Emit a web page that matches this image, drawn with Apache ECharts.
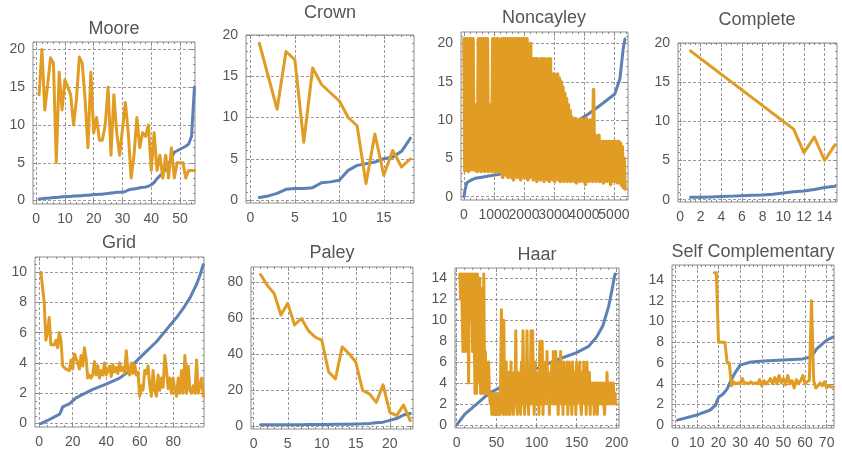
<!DOCTYPE html>
<html><head><meta charset="utf-8">
<script src="https://cdn.jsdelivr.net/npm/echarts@6/dist/echarts.min.js"></script>
<style>html,body{margin:0;padding:0;background:#fff}#c{width:842px;height:454px}</style>
</head><body><div id="c"></div>
<script>
// ---------------- DATA ----------------
const titles = ['Moore','Crown','Noncayley','Complete','Grid','Paley','Haar','Self Complementary'];

// Moore (x = 1..55)
const mooreBlue = [0.2,0.25,0.3,0.3,0.35,0.4,0.4,0.45,0.5,0.5,0.55,0.55,0.6,0.6,0.65,0.65,0.7,0.7,0.75,0.8,0.8,0.85,0.85,0.9,0.95,1.0,1.05,1.1,1.1,1.15,1.2,1.4,1.5,1.55,1.6,1.7,1.75,1.8,1.9,2.1,2.4,2.9,3.3,3.6,4.2,4.8,5.6,6.4,6.6,6.8,7.0,7.2,7.5,8.5,15];
const mooreOrange = [14,20,12,15.4,18.9,18.2,5,17,12,16,15,14,10,13.4,19,18.2,13.4,7,17,9,11,8,8,10,15,6,14,9,6,9.5,13,9,3,6,11,7,9,8.5,10,4,9,4,6,3,6,3,7,3,5,5,5,3,4,4,4];

// Crown (x = 1..18)
const crownBlue = [0.3,0.5,0.8,1.3,1.4,1.4,1.5,2.1,2.2,2.4,3.6,4.2,4.4,4.6,5.0,5.2,5.9,7.5];
const crownOrange = [19,15,11,18,17,7,16,14,13,12,10,9,2,8,3,6,4,5];

// Noncayley
const noncayleyBlueX = [0,30,90,200,370,600,810,1140,1500,2000,2500,3000,3400,3700,4150,4600,5030,5200,5310,5370];
const noncayleyBlueY = [0,0.8,1.8,2.1,2.4,2.55,2.7,2.9,3.3,4.0,5.0,6.5,8.3,9.7,10.8,12.1,13.4,15.4,19.3,20.6];
const noncayleyOrangeStep = 30;
const noncayleyOrange = [
 20.6,3.4,20.6,4,20.6,3.3,20.6,5,20.6,3.5,
 20.6,4,12,3.4,11.5,3.3,20.6,3.6,20.6,3.3,
 20.6,4,20.6,3.3,20.6,3.5,20.6,3.3,12,4,
 10,3.3,20.6,3.4,20.6,3.2,20.6,3.4,20.6,3.3,
 14,3.2,20.6,2.5,20.6,3,20.6,2.8,20.6,2.5,
 20.6,3,20.6,2.5,20.6,2.2,20.6,3,20.6,2.5,
 20.6,2.8,20.6,2.2,20.6,2.5,20.6,3,20.6,2.5,
 20.6,2.2,18,2.5,20,2.8,18,2.2,18,2.5,
 18,2,18,2.5,17,2.2,18,2.5,18,2,
 18,2.5,17.5,2.2,18,2,18,2.5,16,2.2,
 16,2,15.8,2.5,16,2.2,15.5,2,15,2.3,
 14.3,2,13.5,2.2,12.8,2,12,2.3,11.2,2,
 10.4,2.5,10,2,10.2,1.8,9.8,2.2,10,2,
 10.2,2.5,9.5,2,10,1.6,10.2,2.2,9.8,2,
 10,2.3,9,2,14,2.2,8,2,7.9,2.5,
 8,2,7.2,2.2,7.2,1.8,7.2,2.3,7.2,2,
 7.2,2.2,7.2,1.6,7.2,2,7.2,2.3,7.2,2,
 7.2,1.8,7.2,2.2,7,1.5,6.5,1.2,5,1];

// Complete (x = 1..15)
const completeBlue = [0.3,0.3,0.35,0.4,0.45,0.5,0.55,0.6,0.7,0.85,1.0,1.1,1.3,1.55,1.7];
const completeOrange = [19,18,17,16,15,14,13,12,11,10,9,6,8,5,7];

// Grid
const gridBlueX = [1,5,12,13,14,18,22,32,40,48,53,56,62,70,76,82,86,90,94,96,98];
const gridBlueY = [0,0.2,0.6,0.8,1.1,1.3,1.7,2.25,2.6,3.0,3.4,3.9,4.55,5.4,6.2,7.0,7.6,8.3,9.2,9.8,10.5];
const gridOrange = [10,9,8,5.5,6,7,5.2,5.3,5.2,5.5,5,6,5.5,3.8,3.8,3.6,3.5,3.5,4.2,3.6,
 4.6,4.5,4,3.6,4.5,3.8,5,4.3,3,3.2,3,3.2,4.1,3.2,3.8,3,3.5,3.2,4,3.2,
 3.5,3.8,3.1,3.9,3.4,3.7,3.3,4,3.5,3.7,3.3,4.8,3.5,3.2,4,3.3,3.9,3.2,3.4,1.8,
 2.5,2.2,3.5,3.3,3.8,2.5,1.8,3.5,2.2,1.8,3.2,2.2,3,2.4,4.5,3.5,2.3,3,2,3,
 2.2,1.8,3,2,3.5,2,4.5,2,3.8,2.2,2,2.5,2,4.2,2,2,3,1.8];

// Paley (x = 1..23)
const paleyBlue = [0.5,0.5,0.5,0.5,0.55,0.6,0.6,0.65,0.7,0.7,0.75,0.8,0.85,0.9,1.0,1.1,1.3,1.7,2.0,3.0,4.0,6.0,6.8];
const paleyOrange = [84,78,73.5,61.5,68,56,59.6,53,49.3,47.5,30,26,43.8,40,35.4,19.6,17.7,13,22.7,7.4,5.6,11.5,2.8];

// Haar
const haarBlueX = [1,10,25,40,50,75,100,125,150,165,175,183,190,194,198];
const haarBlueY = [0.1,1.0,2.0,3.0,3.4,4.5,5.4,6.2,6.9,7.5,8.4,9.5,11.3,12.8,14.4];
const haarOrangeStart = 4;
const haarOrange = [
 14.4,12,14.4,14.4,7,14.4,14.4,7,14.4,12,
 14.4,4,14.4,14.4,10,14.4,7,14.4,14.4,3,
 14.4,3,14.4,7,4,14,3,13,10,3,
 14.4,3,7,3,4,3,6,3,2,3,
 1,3,2,1,3,1,3,2,1,3,
 1,4,11,2,1,10,3,1,6,2,
 1,5,3,1,6,2,4,1,5,3,
 9,2,1,5,3,4,1,6,2,9,
 3,1,4,2,9,3,1,5,3,9,
 2,9,4,1,6,3,5,2,4,1,
 8,2,3,8,1,4,2,6,3,7,
 2,5,1,4,3,6,2,7,3,2,
 7,2,4,1,6,3,7,2,5,1,
 6,2,4,3,6,1,3,6,2,4,
 1,6,3,2,5,1,6,2,4,3,
 6,2,1,5,3,6,2,4,1,6,
 3,2,5,1,4,3,2,4,1,3,
 4,2,1,4,3,2,4,2,3,4,
 2,1,4,2,5,2,3,4,2,4,
 2,3,4,2,3,2,2];

// Self Complementary
const selfBlueX = [1,10,16,18.5,20,22,24,25.5,27.5,30,35,41,50,59,63,65.5,70,73];
const selfBlueY = [0.5,1.0,1.45,1.9,2.7,3.0,3.5,4.2,5.0,5.8,6.1,6.2,6.3,6.4,6.6,7.4,8.2,8.5];
const selfOrangeStart = 18;
const selfOrange = [14.7,14.7,8,8,8,8,6,6,3.8,4.2,4.0,4.1,4.0,4.5,4.0,4.1,4.0,4.2,4.0,4.1,
 4.0,4.4,3.8,4.3,4.0,4.2,4.5,4.0,4.6,4.0,4.8,4.1,4.5,3.9,4.8,4.0,4.3,3.6,4.4,4.0,
 4.3,4.8,4.0,4.2,4.3,12,4.3,3.6,3.8,4.1,3.8,4.2,3.6,3.8,3.7,3.7];

// Tick labels
const mooreXTicks = [0,10,20,30,40,50], mooreYTicks = [0,5,10,15,20];
const crownXTicks = [0,5,10,15], crownYTicks = [0,5,10,15,20];
const noncayleyXTicks = [0,1000,2000,3000,4000,5000], noncayleyYTicks = [0,5,10,15,20];
const completeXTicks = [0,2,4,6,8,10,12,14], completeYTicks = [0,5,10,15,20];
const gridXTicks = [0,20,40,60,80], gridYTicks = [0,2,4,6,8,10];
const paleyXTicks = [0,5,10,15,20], paleyYTicks = [0,20,40,60,80];
const haarXTicks = [0,50,100,150,200], haarYTicks = [0,2,4,6,8,10,12,14];
const selfXTicks = [0,10,20,30,40,50,60,70], selfYTicks = [0,2,4,6,8,10,12,14];

// ---------------- HELPERS ----------------
function pairs(vals, x0, dx) { return vals.map((v, i) => [x0 + i * dx, v]); }
function zip(xs, ys) { return xs.map((x, i) => [x, ys[i]]); }
function minorVals(min, max, step, majors) {
  const r = [];
  for (let k = Math.ceil(min / step); k <= Math.floor(max / step); k++) {
    const v = +(k * step).toFixed(6);
    if (!majors.some(m => Math.abs(m - v) < 1e-9)) r.push(v);
  }
  return r;
}

const FONT = '"Liberation Sans", Arial, Helvetica, sans-serif';
const BLUE = '#5E81B5', ORANGE = '#E19C24';
const FRAME = '#8c8c8c', GRIDC = '#9a9a9a', TXT = '#555';

const panels = [
  {t:0, cx:114, ty:20, box:[33,42,162,162], xr:[-1.1,55.2], yr:[-0.45,21], xt:mooreXTicks, yt:mooreYTicks, xm:2, ym:1,
   blue:pairs(mooreBlue,1,1), orange:pairs(mooreOrange,1,1)},
  {t:1, cx:330, ty:4, box:[246,35,168,168], xr:[-0.5,18.4], yr:[-0.36,20], xt:crownXTicks, yt:crownYTicks, xm:1, ym:1,
   blue:pairs(crownBlue,1,1), orange:pairs(crownOrange,1,1)},
  {t:2, cx:544, ty:9, box:[461,32,167,168], xr:[-100,5470], yr:[-0.43,21.5], xt:noncayleyXTicks, yt:noncayleyYTicks, xm:200, ym:1,
   blue:zip(noncayleyBlueX,noncayleyBlueY), orange:pairs(noncayleyOrange,0,noncayleyOrangeStep), w:3.6, splitLabels:true},
  {t:3, cx:757, ty:11, box:[678,43,159,159], xr:[-0.2,15.2], yr:[-0.3,20], xt:completeXTicks, yt:completeYTicks, xm:0.5, ym:1,
   blue:pairs(completeBlue,1,1), orange:pairs(completeOrange,1,1), splitLabels:true},
  {t:4, cx:119, ty:234, box:[35,257,169,170], xr:[-2.5,98.4], yr:[-0.23,11], xt:gridXTicks, yt:gridYTicks, xm:5, ym:0.5,
   blue:zip(gridBlueX,gridBlueY), orange:pairs(gridOrange,1,1)},
  {t:5, cx:332, ty:244, box:[251,267,162,162], xr:[-0.4,23.4], yr:[-1.8,88.2], xt:paleyXTicks, yt:paleyYTicks, xm:1, ym:5,
   blue:pairs(paleyBlue,1,1), orange:pairs(paleyOrange,1,1)},
  {t:6, cx:537, ty:246, box:[455,268,164,160], xr:[-2,203], yr:[-0.29,14.98], xt:haarXTicks, yt:haarYTicks, xm:10, ym:0.5,
   blue:zip(haarBlueX,haarBlueY), orange:pairs(haarOrange,haarOrangeStart,1), w:3},
  {t:7, cx:753, ty:243, box:[672,265,162,163], xr:[-1.5,73.4], yr:[-0.26,15.45], xt:selfXTicks, yt:selfYTicks, xm:2, ym:0.5,
   blue:zip(selfBlueX,selfBlueY), orange:pairs(selfOrange,selfOrangeStart,1)}
];

function axisDef(k, pos, r, tickVals, len, labelVals, split) {
  return {
    type:'value', gridIndex:k, position:pos, min:r[0], max:r[1],
    axisLine:{show:false, onZero:false},
    axisTick:{show:len > 0, inside:true, length:Math.max(len, 1), customValues:tickVals, lineStyle:{color:FRAME, width:1}},
    axisLabel:{show:!!labelVals, customValues:labelVals || tickVals, formatter:v => String(v), margin:8,
               hideOverlap:false, showMinLabel:true, showMaxLabel:true,
               fontSize:14, color:TXT, fontFamily:FONT},
    splitLine:{show:split, lineStyle:{color:GRIDC, width:1, type:[3,2]}},
    minorTick:{show:false}, minorSplitLine:{show:false}
  };
}

const grid = [], xAxis = [], yAxis = [], series = [], title = [], extraX = [];
panels.forEach((p, k) => {
  grid.push({left:p.box[0], top:p.box[1], width:p.box[2], height:p.box[3], show:true,
             borderColor:FRAME, borderWidth:1, backgroundColor:'transparent'});
  title.push({text:titles[p.t], left:p.cx, top:p.ty, textAlign:'center', padding:0,
              textStyle:{fontSize:18, fontWeight:'normal', color:TXT, fontFamily:FONT}});
  const xMinor = minorVals(p.xr[0], p.xr[1], p.xm, p.xt);
  const yMinor = minorVals(p.yr[0], p.yr[1], p.ym, p.yt);
  // split overlapping labels over two axes so none gets hidden
  const evenLbl = p.splitLabels ? p.xt.filter((v, i) => i % 2 === 0) : p.xt;
  const oddLbl = p.splitLabels ? p.xt.filter((v, i) => i % 2 === 1) : null;
  xAxis.push(axisDef(k,'bottom',p.xr,p.xt,4,evenLbl,true));
  xAxis.push(axisDef(k,'bottom',p.xr,xMinor,2,null,false));
  xAxis.push(axisDef(k,'top',p.xr,p.xt,4,null,false));
  xAxis.push(axisDef(k,'top',p.xr,xMinor,2,null,false));
  if (oddLbl) extraX.push(axisDef(k,'bottom',p.xr,oddLbl,0,oddLbl,false));
  yAxis.push(axisDef(k,'left',p.yr,p.yt,4,p.yt,true));
  yAxis.push(axisDef(k,'left',p.yr,yMinor,2,null,false));
  yAxis.push(axisDef(k,'right',p.yr,p.yt,4,null,false));
  yAxis.push(axisDef(k,'right',p.yr,yMinor,2,null,false));
  const w = p.w || 3;
  series.push({type:'line', xAxisIndex:k*4, yAxisIndex:k*4, data:p.blue, showSymbol:false, symbol:'none',
               lineStyle:{color:BLUE, width:3, join:'round', cap:'round'}, itemStyle:{color:BLUE}, z:2, silent:true});
  series.push({type:'line', xAxisIndex:k*4, yAxisIndex:k*4, data:p.orange, showSymbol:false, symbol:'none',
               lineStyle:{color:ORANGE, width:w, join:'round', cap:'round'}, itemStyle:{color:ORANGE}, z:3, silent:true});
});
extraX.forEach(a => xAxis.push(a));

const chart = echarts.init(document.getElementById('c'), null, {renderer:'canvas'});
chart.setOption({animation:false, backgroundColor:'#fff', title, grid, xAxis, yAxis, series});
</script></body></html>
